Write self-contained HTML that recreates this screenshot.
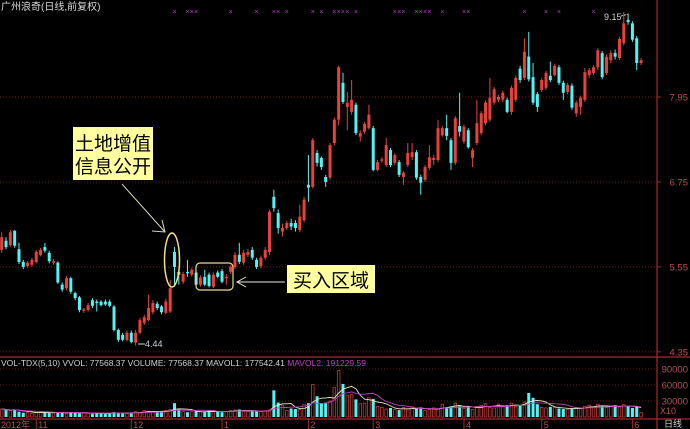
<!DOCTYPE html>
<html><head><meta charset="utf-8">
<style>
html,body{margin:0;padding:0;background:#000;}
svg{display:block;}
text{font-family:"Liberation Sans","Noto Sans CJK SC",sans-serif;}
</style></head>
<body>
<svg id="chart" width="690" height="429" viewBox="0 0 690 429">
  <rect x="0" y="0" width="690" height="429" fill="#000"/>
  <text x="1" y="10" font-size="10" fill="#d8d8d8">广州浪奇(日线,前复权)</text>
  <g id="grid"></g>
  <g id="marks"></g>
  <g id="candles"></g>
  <g id="vol"></g>
  <g id="axes"></g>
  <!-- annotations -->
  <g>
    <rect x="73" y="127" width="80" height="53" fill="#ffffa0"/>
    <text x="113" y="150" font-size="19" text-anchor="middle" fill="#000">土地增值</text>
    <text x="113" y="173" font-size="19" text-anchor="middle" fill="#000">信息公开</text>
    <line x1="122" y1="184" x2="165" y2="232" stroke="#d8d8b8" stroke-width="1"/>
    <polyline points="152,231 165,232 162,220" fill="none" stroke="#d8d8b8" stroke-width="1"/>
    <ellipse cx="172" cy="260" rx="7.5" ry="27" fill="none" stroke="#f0e080" stroke-width="1.5"/>
  </g>
  <g>
    <rect x="196" y="263" width="37" height="27" rx="4" fill="none" stroke="#e8d890" stroke-width="1.2"/>
    <rect x="287" y="265" width="88" height="28" fill="#ffffa0"/>
    <text x="331" y="287" font-size="19" text-anchor="middle" fill="#000">买入区域</text>
    <line x1="285" y1="282" x2="237" y2="282" stroke="#e8e8d8" stroke-width="1"/>
    <polyline points="246,277 237,282 246,287" fill="none" stroke="#e8e8d8" stroke-width="1"/>
  </g>
  <text x="145" y="347" font-size="9" fill="#d0d0d0">4.44</text>
  <line x1="138" y1="344" x2="145" y2="344" stroke="#d0d0d0"/>
  <text x="604" y="20" font-size="9" fill="#d0d0d0">9.15</text>
  <line x1="621" y1="16" x2="629" y2="14" stroke="#d0d0d0" stroke-dasharray="2,1"/>
  <text x="1" y="366" font-size="8.5" fill="#d0d0d0">VOL-TDX(5,10) VVOL: 77568.37   VOLUME: 77568.37  MAVOL1: 177542.41 <tspan fill="#c040c0">MAVOL2: 191229.59</tspan></text>
</svg>
<script>
// candle data: [open, close, high, low]
const opens  = [5.79,5.92,5.86,6.06,5.80,5.62,5.56,5.58,5.62,5.72,5.83,5.75,5.61,5.61,5.30,5.25,5.39,5.18,5.12,4.93,4.94,5.08,5.06,5.06,5.06,5.06,4.99,4.66,4.59,4.52,4.62,4.48,4.62,4.76,4.80,4.91,5.03,4.99,4.90,4.92,5.76,5.48,5.34,5.48,5.44,5.47,5.30,5.41,5.44,5.27,5.47,5.49,5.39,5.48,5.55,5.72,5.61,5.72,5.79,5.65,5.56,5.68,5.76,6.54,6.31,6.05,6.10,6.17,6.17,6.07,6.21,6.71,6.68,7.16,7.09,6.82,6.81,7.30,7.63,8.15,7.81,7.74,7.84,7.39,7.46,7.51,7.51,6.92,7.05,6.99,7.20,7.02,7.03,6.82,6.99,7.10,7.17,6.82,6.78,6.95,7.06,7.06,7.41,7.51,7.34,7.02,7.54,7.32,7.48,7.09,7.30,7.44,7.58,7.63,7.87,7.91,7.91,7.91,7.74,7.91,8.35,8.22,8.52,8.23,7.99,8.05,8.08,8.25,8.26,8.37,8.15,8.02,8.11,7.72,7.81,7.91,8.26,8.29,8.37,8.57,8.29,8.47,8.57,8.50,8.71,9.04,8.99,8.78,8.43];
const closes = [5.97,5.83,6.04,5.85,5.62,5.55,5.61,5.65,5.76,5.79,5.78,5.63,5.63,5.33,5.23,5.39,5.20,5.11,4.94,4.95,5.01,5.00,5.04,5.01,5.02,5.00,4.66,4.52,4.52,4.62,4.49,4.62,4.80,4.84,4.97,5.04,4.97,4.91,5.06,5.25,5.55,5.44,5.45,5.46,5.51,5.30,5.40,5.30,5.28,5.44,5.41,5.34,5.41,5.55,5.72,5.62,5.75,5.76,5.68,5.55,5.68,5.79,6.33,6.38,6.10,6.10,6.17,6.12,6.10,6.26,6.50,6.67,7.34,7.02,6.96,6.75,7.27,7.63,8.37,7.88,7.87,7.91,7.44,7.44,7.57,7.70,6.92,7.03,7.07,7.27,6.99,7.13,6.85,6.88,7.16,7.17,6.81,6.74,6.96,7.10,7.09,7.51,7.51,7.40,7.02,7.65,7.46,7.53,7.24,7.20,7.58,7.72,7.87,7.94,8.06,7.95,8.01,7.74,8.08,8.22,8.19,8.59,8.20,7.87,7.81,8.19,8.29,8.19,8.39,8.15,8.01,8.12,7.80,7.87,7.94,8.30,8.33,8.37,8.61,8.23,8.52,8.57,8.52,8.77,8.99,9.01,8.76,8.43,8.47];
const highs  = [6.04,5.97,6.07,6.07,5.89,5.65,5.63,5.68,5.79,5.82,5.89,5.78,5.66,5.63,5.33,5.42,5.41,5.20,5.14,4.97,5.04,5.11,5.09,5.08,5.09,5.09,5.01,4.68,4.62,4.65,4.65,4.66,4.83,4.87,5.16,5.08,5.06,5.01,5.10,5.37,5.83,5.51,5.48,5.65,5.54,5.50,5.43,5.51,5.47,5.47,5.50,5.52,5.45,5.58,5.76,5.89,5.79,5.80,5.83,5.68,5.71,5.83,6.36,6.64,6.36,6.16,6.20,6.23,6.21,6.43,6.54,7.13,7.37,7.20,7.11,6.85,7.30,7.66,8.39,8.29,8.02,8.19,7.87,7.48,7.60,7.84,7.54,7.06,7.10,7.37,7.23,7.16,7.06,6.90,7.30,7.30,7.20,6.85,6.99,7.27,7.13,7.63,7.54,7.70,7.37,7.68,8.01,7.56,7.51,7.23,7.91,7.75,7.90,8.22,8.09,7.98,8.04,7.94,8.11,8.25,8.39,8.78,8.87,8.43,8.02,8.22,8.32,8.45,8.42,8.40,8.18,8.15,8.14,7.90,7.97,8.36,8.36,8.40,8.64,8.60,8.55,8.61,8.62,8.80,9.15,9.11,9.02,8.81,8.50];
const lows   = [5.75,5.80,5.83,5.82,5.59,5.52,5.54,5.55,5.60,5.70,5.75,5.60,5.58,5.31,5.20,5.22,5.17,5.08,4.91,4.90,4.92,4.97,4.92,4.99,5.00,4.98,4.64,4.49,4.50,4.50,4.47,4.44,4.60,4.73,4.78,4.88,4.94,4.88,4.88,4.90,5.27,5.30,5.31,5.41,5.41,5.28,5.27,5.28,5.26,5.25,5.39,5.32,5.30,5.45,5.52,5.59,5.58,5.69,5.65,5.52,5.53,5.65,5.72,6.33,6.02,5.98,6.07,6.07,6.05,6.04,6.18,6.47,6.66,6.97,6.92,6.68,6.78,7.27,7.55,7.85,7.48,7.70,7.41,7.32,7.43,7.49,6.90,6.90,7.02,6.96,6.96,6.99,6.82,6.71,6.96,7.06,6.78,6.57,6.75,6.92,6.99,7.03,7.39,7.34,6.92,6.99,7.39,7.29,7.22,6.96,7.27,7.41,7.55,7.60,7.84,7.88,7.88,7.72,7.70,7.88,8.15,8.19,8.17,7.84,7.74,8.02,8.05,8.16,8.24,8.12,7.91,7.99,7.77,7.67,7.70,7.88,8.22,8.26,8.33,8.20,8.26,8.43,8.48,8.47,8.68,8.97,8.73,8.33,8.40];
const volumes = [15000,13000,12000,14000,10000,8000,9000,7000,8000,9000,
 10000,8000,7000,9000,8000,7000,9000,8000,7000,8000,
 7000,6000,8000,7000,6000,7000,9000,8000,7000,6000,
 8000,10000,9000,12000,11000,10000,9000,11000,12000,14000,
 26000,14000,10000,9000,10000,11000,10000,9000,12000,10000,
 11000,9000,10000,12000,13000,14000,11000,10000,12000,11000,
 10000,12000,13000,50000,27000,22000,12000,16000,15000,14000,
 24000,26000,61000,39000,26000,27000,30000,55000,87000,62000,
 41000,42000,33000,25000,26000,36000,34000,20000,18000,15000,
 17000,14000,13000,18000,15000,19000,17000,16000,12000,14000,
 17000,15000,24000,18000,20000,26000,20000,16000,18000,14000,
 20000,22000,25000,18000,17000,24000,20000,22000,26000,20000,
 22000,28000,45000,36000,24000,18000,17000,19000,18000,16000,
 15000,14000,16000,18000,17000,20000,22000,19000,24000,20000,
 18000,20000,22000,19000,23000,20000,17000,19000,8000];
const priceTicks = [7.95, 6.75, 5.55, 4.35];
const volTicks = [90000, 60000, 30000];
const monthLabels = ["11","12","1","2","3","4","5","6"];
const monthIndex = [8,30,51,71,86,107,125,146];
const markIndex = [40,43,44,45,53,59,63,64,66,72,74,77,78,79,80,82,91,92,93,96,97,98,99,102,107,108,121,126,129,137];

const NS = "http://www.w3.org/2000/svg";
const X0 = 1.7, STEP = 4.32;
function xAt(i){ return X0 + i*STEP; }
function yP(p){ return 97 + (7.95 - p)*70.8; }
function yV(v){ return 417 - v/30000*16; }
function mk(tag, attrs, parent){
  const e = document.createElementNS(NS, tag);
  for (const k in attrs) e.setAttribute(k, attrs[k]);
  parent.appendChild(e); return e;
}
const RED = "#e8403c", CYAN = "#50f4f4";
const grid = document.getElementById("grid");
const axes = document.getElementById("axes");
const cg = document.getElementById("candles");
const vg = document.getElementById("vol");
const mg = document.getElementById("marks");

// price gridlines and labels
priceTicks.forEach(p => {
  const y = yP(p);
  const l = mk("line", {x1:0, x2:657, y1:y, y2:y, stroke:"#6a1c1c", "stroke-dasharray":"1,2"}, grid);
  
  
  const t = mk("text", {x:688, y:y+3.5, "font-size":"9.5", fill:"#b85050", "text-anchor":"end"}, axes);
  t.textContent = p.toFixed(2);
  
  
  const tk = mk("line", {x1:657, x2:661, y1:y, y2:y, stroke:"#a02828"}, axes);
  
  
});
// volume gridlines & labels
volTicks.forEach(v => {
  const y = yV(v);
  const l = mk("line", {x1:0, x2:657, y1:y, y2:y, stroke:"#5a1a1a", "stroke-dasharray":"1,2"}, grid);
  
  
  const t = mk("text", {x:688, y:y+3.5, "font-size":"9.5", fill:"#b85050", "text-anchor":"end"}, axes);
  t.textContent = String(v);
  
  
});
// frame lines
[[0,357,690,357],[0,419,690,419],[657,0,657,429]].forEach(a => {
  const l = mk("line", {x1:a[0], y1:a[1], x2:a[2], y2:a[3], stroke:"#a82828", "stroke-width":1.2}, axes);
  
  
});
const x10 = mk("text", {x:660, y:414, "font-size":"9", fill:"#b85050"}, axes);
x10.textContent = "X10";


const dl = mk("text", {x:664, y:427, "font-size":"9", fill:"#d0d0d0"}, axes);
dl.textContent = "日线";


const yr = mk("text", {x:1, y:428, "font-size":"9", fill:"#b85050"}, axes);
yr.textContent = "2012年";


monthLabels.forEach((m, k) => {
  const x = xAt(monthIndex[k]);
  const l = mk("line", {x1:x, x2:x, y1:419, y2:429, stroke:"#a82828"}, axes);
  
  
  const t = mk("text", {x:x+2, y:428, "font-size":"9", fill:"#b85050"}, axes);
  t.textContent = m;
  
  
});
// signal marks
markIndex.forEach(i => {
  const t = mk("text", {x:xAt(i), y:14, "font-size":"7", fill:"#b040c0", "text-anchor":"middle"}, mg);
  t.textContent = "×";
  
  
});
// candles and volume
for (let i = 0; i < opens.length; i++) {
  const up = closes[i] >= opens[i];
  const col = up ? RED : CYAN;
  const x = xAt(i);
  const w = mk("line", {x1:x, x2:x, y1:yP(highs[i]), y2:yP(lows[i]), stroke:col, "stroke-width":1}, cg);
  
  
  const top = yP(Math.max(opens[i], closes[i]));
  const bot = yP(Math.min(opens[i], closes[i]));
  const b = mk("rect", {x:x-1.5, y:top, width:3, height:Math.max(1, bot-top), fill:col}, cg);
  
  
  const vy = yV(volumes[i]);
  const vb = up
    ? mk("rect", {x:x-1.3, y:vy, width:2.6, height:417-vy, fill:"#000", stroke:"#c83a36", "stroke-width":0.8}, vg)
    : mk("rect", {x:x-1.5, y:vy, width:3, height:417-vy, fill:CYAN}, vg);
  
  
}
// moving averages of volume
function ma(n){
  const pts = [];
  for (let i = 0; i < volumes.length; i++) {
    const s = Math.max(0, i-n+1); let sum = 0;
    for (let j = s; j <= i; j++) sum += volumes[j];
    pts.push(xAt(i).toFixed(1) + "," + yV(sum/(i-s+1)).toFixed(1));
  }
  return pts.join(" ");
}
const m1 = mk("polyline", {points:ma(5), fill:"none", stroke:"#e8e8c0", "stroke-width":0.9}, vg);


const m2 = mk("polyline", {points:ma(10), fill:"none", stroke:"#c040c0", "stroke-width":0.9}, vg);


</script>
</body></html>
